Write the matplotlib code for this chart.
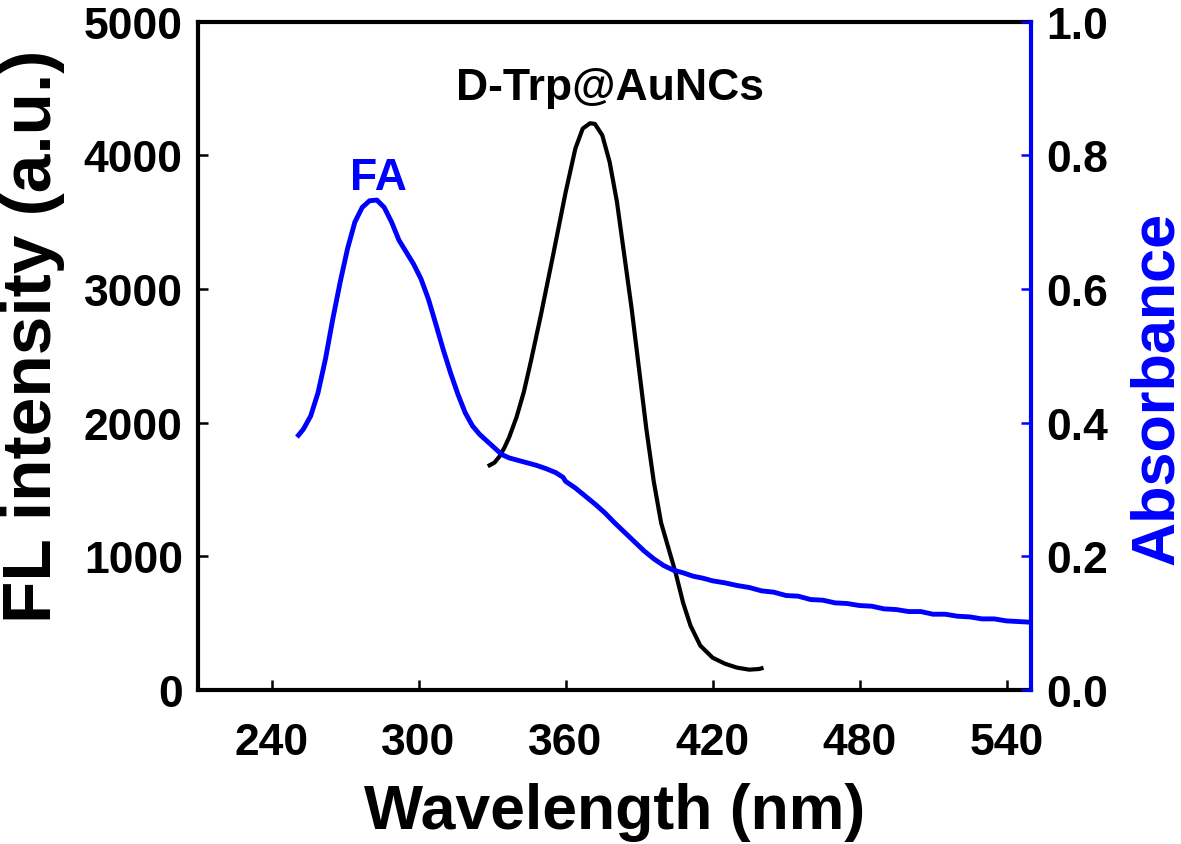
import numpy as np
import matplotlib
matplotlib.use("Agg")
import matplotlib.pyplot as plt

plt.rcParams['font.family'] = ['Liberation Sans', 'DejaVu Sans']
plt.rcParams['font.weight'] = 'bold'

# FL spectrum of D-Trp@AuNCs (left axis)
wl_fl = [329, 331, 333, 335, 337, 340, 343, 346, 350, 355, 360, 364, 367, 370,
         372, 375, 378, 381, 384, 387, 390, 393, 396, 399, 402, 405, 408, 411,
         415, 420, 425, 430, 435, 439, 440]
fl = [1680, 1700, 1745, 1810, 1890, 2040, 2230, 2470, 2810, 3260, 3720, 4050,
      4200, 4240, 4235, 4150, 3950, 3650, 3250, 2850, 2400, 1950, 1560, 1250,
      1060, 870, 650, 480, 330, 240, 195, 165, 150, 155, 160]

# absorbance of FA (right axis)
wl_abs = [251, 253, 256, 259, 262, 265, 268, 271, 274, 277, 280, 283, 286, 289,
          292, 295, 298, 301, 304, 307, 310, 313, 316, 319, 322, 325, 328, 331,
          334, 337, 340, 344, 348, 352, 356, 359, 360, 364, 368, 372, 376, 380,
          384, 388, 392, 396, 400, 404, 408, 412, 416, 420, 425, 430, 435, 440,
          445, 450, 455, 460, 465, 470, 475, 480, 485, 490, 495, 500, 505, 510,
          515, 520, 525, 530, 535, 540, 545, 550]
absb = [0.381, 0.390, 0.410, 0.445, 0.495, 0.555, 0.610, 0.660, 0.700, 0.722,
        0.732, 0.733, 0.722, 0.700, 0.673, 0.655, 0.637, 0.615, 0.585, 0.548,
        0.510, 0.475, 0.443, 0.415, 0.395, 0.382, 0.372, 0.362, 0.352, 0.347,
        0.344, 0.340, 0.336, 0.331, 0.325, 0.318, 0.312, 0.302, 0.290, 0.278,
        0.265, 0.250, 0.236, 0.222, 0.208, 0.196, 0.186, 0.179, 0.175, 0.170,
        0.167, 0.163, 0.160, 0.156, 0.153, 0.148, 0.146, 0.141, 0.140, 0.135,
        0.134, 0.130, 0.129, 0.126, 0.125, 0.121, 0.120, 0.117, 0.117, 0.113,
        0.113, 0.110, 0.109, 0.106, 0.106, 0.103, 0.102, 0.101]

xticks = [240, 300, 360, 420, 480, 540]
yticks_fl = [0, 1000, 2000, 3000, 4000, 5000]
yticks_abs = [0.0, 0.2, 0.4, 0.6, 0.8, 1.0]

fig = plt.figure(figsize=(11.81, 8.45), dpi=100)
ax = fig.add_axes([0.1677, 0.1826, 0.7053, 0.7905])
ax2 = ax.twinx()

ax.plot(wl_fl, fl, color='black', lw=3)
ax2.plot(wl_abs, absb, color='blue', lw=3.5)

ax.set_xlim(210, 550)
ax.set_ylim(0, 5000)
ax2.set_ylim(0, 1.0)
ax.set_xticks(xticks)
ax.set_yticks(yticks_fl)
ax2.set_yticks(yticks_abs)
ax2.set_yticklabels([f"{v:.1f}" for v in yticks_abs])

for s in ['left', 'bottom', 'top']:
    ax.spines[s].set_linewidth(3)
ax.spines['right'].set_visible(False)
for s in ['left', 'bottom', 'top']:
    ax2.spines[s].set_visible(False)
ax2.spines['right'].set_linewidth(3)
ax2.spines['right'].set_color('blue')

ax.tick_params(direction='in', length=7, width=1.8, labelsize=32, pad=11)
ax.tick_params(axis='x', pad=23)
ax2.tick_params(direction='in', length=7, width=1.8, labelsize=32, pad=11,
                color='blue', labelcolor='black')

ax.set_xlabel('Wavelength (nm)', fontsize=45, fontweight='bold')
ax.set_ylabel('FL intensity (a.u.)', fontsize=50, fontweight='bold')
ax2.set_ylabel('Absorbance', fontsize=44, fontweight='bold', color='blue')
ax.xaxis.set_label_coords(0.5, -0.138)
ax.yaxis.set_label_coords(-0.160, 0.531)
ax2.yaxis.set_label_coords(1.118, 0.452)

ax.text(378, 4420, 'D-Trp@AuNCs', fontsize=32, fontweight='bold',
        ha='center', va='baseline')
ax.text(283.5, 3750, 'FA', fontsize=32, fontweight='bold', color='blue',
        ha='center', va='baseline')

fig.savefig('out.png', dpi=100)
